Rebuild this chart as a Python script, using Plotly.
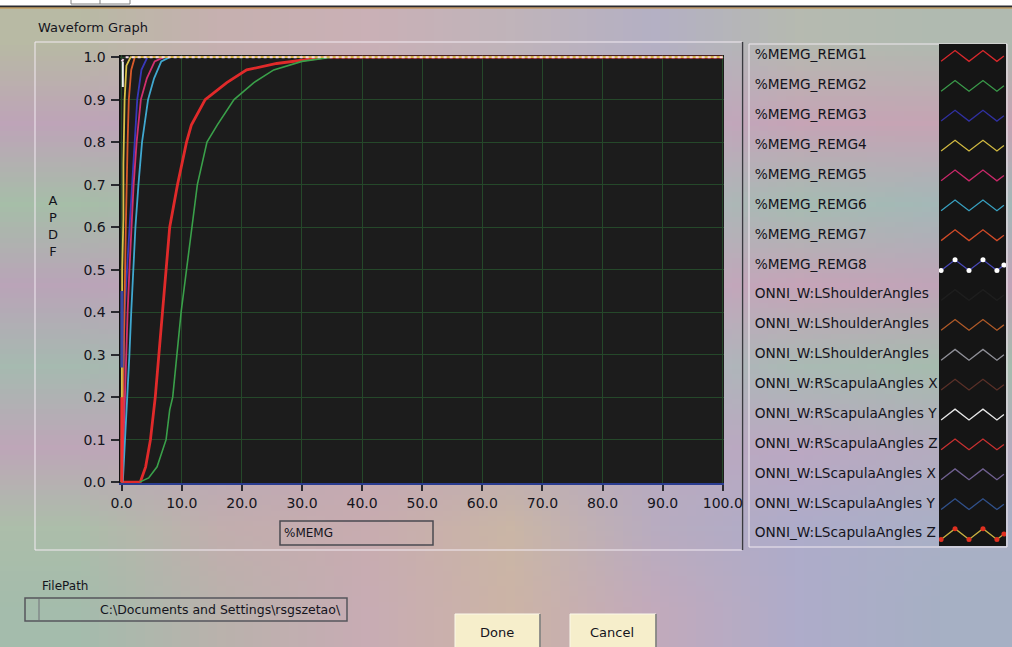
import base64, struct, zlib
import plotly.graph_objects as go

W, H = 1012, 647

# ---------------- data ----------------
x_remg1 = [0.0, 3.1, 4.0, 4.8, 5.6, 6.2, 6.9, 7.5, 8.0, 9.3, 10.8, 11.6, 13.9, 17.5, 20.8, 25.8, 34.0, 100.0]
y_remg1 = [0.0, 0.0, 0.036, 0.1, 0.2, 0.3, 0.4, 0.5, 0.6, 0.7, 0.8, 0.84, 0.9, 0.94, 0.97, 0.985, 1.0, 1.0]

x_remg2 = [3.0, 4.5, 5.9, 7.0, 7.4, 8.0, 8.5, 9.2, 9.9, 10.8, 11.7, 12.6, 14.2, 15.9, 18.7, 22.0, 25.3, 30.0, 35.0, 100.0]
y_remg2 = [0.0, 0.01, 0.036, 0.08, 0.1, 0.17, 0.2, 0.3, 0.4, 0.5, 0.6, 0.7, 0.8, 0.84, 0.9, 0.94, 0.97, 0.99, 1.0, 1.0]

x_remg3 = [0.0, 0.2, 0.5, 0.9, 1.3, 1.7, 2.1, 2.6, 3.3, 4.3, 100.0]
y_remg3 = [0.0, 0.2, 0.4, 0.5, 0.6, 0.7, 0.8, 0.9, 0.97, 1.0, 1.0]

x_remg4 = [0.0, 0.1, 0.3, 0.3, 0.5, 0.8, 1.5, 100.0]
y_remg4 = [0.0, 0.5, 0.62, 0.75, 0.9, 0.98, 1.0, 1.0]

x_remg5 = [0.1, 0.3, 0.6, 0.8, 1.0, 1.3, 1.6, 2.0, 2.5, 3.2, 4.2, 5.5, 7.0, 100.0]
y_remg5 = [0.0, 0.1, 0.2, 0.3, 0.4, 0.5, 0.6, 0.7, 0.8, 0.9, 0.95, 0.99, 1.0, 1.0]

x_remg6 = [0.2, 0.6, 0.9, 1.3, 1.6, 1.9, 2.3, 2.8, 3.4, 4.4, 5.4, 6.6, 8.0, 100.0]
y_remg6 = [0.0, 0.1, 0.2, 0.3, 0.4, 0.5, 0.6, 0.7, 0.8, 0.9, 0.95, 0.99, 1.0, 1.0]

x_remg7 = [0.0, 0.2, 0.4, 0.7, 1.0, 1.2, 1.6, 2.2, 100.0]
y_remg7 = [0.0, 0.2, 0.4, 0.6, 0.8, 0.9, 0.97, 1.0, 1.0]

x_remg8 = [0.0, 0.6, 100.0]
y_remg8 = [0.99, 1.0, 1.0]

x_rscap_y = [0.2, 0.2]
y_rscap_y = [0.93, 0.99]
x_rscap_z = [0.05, 0.05]
y_rscap_z = [0.0, 0.2]
x_lscap_y = [0.05, 0.05]
y_lscap_y = [0.27, 0.45]

x_ticks = [0, 10, 20, 30, 40, 50, 60, 70, 80, 90, 100]
x_ticktext = ["0.0", "10.0", "20.0", "30.0", "40.0", "50.0", "60.0", "70.0", "80.0", "90.0", "100.0"]
y_ticks = [0.0, 0.1, 0.2, 0.3, 0.4, 0.5, 0.6, 0.7, 0.8, 0.9, 1.0]
y_ticktext = ["0.0", "0.1", "0.2", "0.3", "0.4", "0.5", "0.6", "0.7", "0.8", "0.9", "1.0"]

legend_names = [
    "%MEMG_REMG1", "%MEMG_REMG2", "%MEMG_REMG3", "%MEMG_REMG4",
    "%MEMG_REMG5", "%MEMG_REMG6", "%MEMG_REMG7", "%MEMG_REMG8",
    "ONNI_W:LShoulderAngles", "ONNI_W:LShoulderAngles", "ONNI_W:LShoulderAngles",
    "ONNI_W:RScapulaAngles X", "ONNI_W:RScapulaAngles Y", "ONNI_W:RScapulaAngles Z",
    "ONNI_W:LScapulaAngles X", "ONNI_W:LScapulaAngles Y", "ONNI_W:LScapulaAngles Z",
]
legend_colors = [
    "#d8282c", "#3a9a4a", "#3030a0", "#d0b840",
    "#c82868", "#38a0c0", "#d04a28", "#4848b8",
    "#1e1e1e", "#b05a28", "#909098",
    "#5a3028", "#e8e8e8", "#c83030",
    "#706090", "#30508a", "#c8b040",
]
legend_markers = [None] * 7 + ["#ffffff"] + [None] * 8 + ["#e03020"]

# ---------------- helpers ----------------
def fx(px):
    return px / W

def fy(py):
    return 1 - py / H

def png_data_uri(rows):
    h = len(rows)
    w = len(rows[0])
    raw = b""
    for r in rows:
        raw += b"\x00" + b"".join(bytes(int(c[i:i + 2], 16) for i in (1, 3, 5)) for c in r)
    def chunk(t, d):
        c = struct.pack(">I", len(d)) + t + d
        return c + struct.pack(">I", zlib.crc32(t + d) & 0xffffffff)
    data = b"\x89PNG\r\n\x1a\n" + chunk(b"IHDR", struct.pack(">IIBBBBB", w, h, 8, 2, 0, 0, 0)) \
        + chunk(b"IDAT", zlib.compress(raw)) + chunk(b"IEND", b"")
    return "data:image/png;base64," + base64.b64encode(data).decode()

bg_rows = [
    ["#b8baa4", "#c6b0b0", "#cab0b6", "#c0b4ba", "#b4b0c4", "#b6bab0", "#b0bab0"],
    ["#bea4b8", "#baa6b8", "#bea8b8", "#b8acbe", "#bcaac0", "#c6a4b6", "#c6a4b4"],
    ["#a6bea8", "#aeb6ae", "#b6b2b6", "#b8b0b8", "#b4b2bc", "#a6bcb2", "#a4b8b8"],
    ["#baa4b8", "#bea6b8", "#c0a6b6", "#bcaab8", "#beaabe", "#c6a4b8", "#c0a4b8"],
    ["#a6bab0", "#aeb4b4", "#b8aeb8", "#b8b0b8", "#b6b0c2", "#aabab4", "#a6bcae"],
    ["#bea6b8", "#baa8b8", "#c4a8b4", "#bcacb4", "#b8aac0", "#bca8c2", "#b4acbe"],
    ["#acbeaa", "#c2aeae", "#c8acb0", "#cab6a6", "#b8acc0", "#aeacca", "#aab0c6"],
    ["#a4bcac", "#bab2ac", "#c8acb4", "#ccb4a6", "#c2aabc", "#aeacca", "#a6b0c4"],
]

FONT = "DejaVu Sans"
TXT = "#14141c"

fig = go.Figure()

# ---------------- main plot traces ----------------
main = [
    (x_remg1, y_remg1, "#e02a2a", 2.8),
    (x_remg2, y_remg2, "#3aa04a", 1.6),
    (x_remg3, y_remg3, "#3838b8", 1.8),
    (x_remg5, y_remg5, "#d0306e", 1.8),
    (x_remg6, y_remg6, "#40a8d0", 1.8),
    (x_remg7, y_remg7, "#d85a2a", 1.8),
    (x_remg4, y_remg4, "#d8c048", 1.8),
    (x_lscap_y, y_lscap_y, "#3a48a0", 3),
    (x_rscap_z, y_rscap_z, "#f03030", 3),
    (x_rscap_y, y_rscap_y, "#f0f0f0", 2),
]
for xs, ys, col, lw in main:
    fig.add_trace(go.Scatter(x=xs, y=ys, mode="lines", line=dict(color=col, width=lw),
                             showlegend=False, hoverinfo="skip", xaxis="x", yaxis="y"))
fig.add_trace(go.Scatter(x=x_remg8, y=y_remg8, mode="lines",
                         line=dict(color="#f4d8e8", width=2, dash="dot"),
                         showlegend=False, hoverinfo="skip", xaxis="x", yaxis="y"))

# ---------------- legend swatches ----------------
sw_x = [0, 1, 2, 3, 4, 4.5]
sw_d = [-1, 1, -1, 1, -1, 0]
amp = 0.18
n = len(legend_names)
for i in range(n):
    yc = n - 1 - i
    ys = [yc + amp * d for d in sw_d]
    mk = legend_markers[i]
    fig.add_trace(go.Scatter(
        x=sw_x, y=ys, mode="lines+markers" if mk else "lines",
        line=dict(color=legend_colors[i], width=1.3),
        marker=dict(color=mk or legend_colors[i], size=5 if mk else 0),
        showlegend=False, hoverinfo="skip", xaxis="x2", yaxis="y2"))

fig.add_trace(go.Scatter(
    x=[0.03] * n, y=[n - 1 - i for i in range(n)], mode="text",
    text=legend_names, textposition="middle right",
    textfont=dict(family=FONT, size=13.7, color=TXT),
    cliponaxis=True, showlegend=False, hoverinfo="skip", xaxis="x3", yaxis="y3"))

# ---------------- shapes ----------------
shapes = []
def rect(x0, y0, x1, y1, fill=None, line=None, lw=1, layer="below"):
    shapes.append(dict(type="rect", xref="paper", yref="paper",
                       x0=fx(x0), x1=fx(x1), y0=fy(y1), y1=fy(y0),
                       fillcolor=fill or "rgba(0,0,0,0)",
                       line=dict(color=line or "rgba(0,0,0,0)", width=lw if line else 0),
                       layer=layer))
def seg(x0, y0, x1, y1, col, lw=1, layer="below"):
    shapes.append(dict(type="line", xref="paper", yref="paper",
                       x0=fx(x0), x1=fx(x1), y0=fy(y0), y1=fy(y1),
                       line=dict(color=col, width=lw), layer=layer))

rect(0, 0, W, 6, fill="#ffffff")
seg(0, 6.5, W, 6.5, "#2a2a30", 2)
seg(0, 8, W, 8, "#c89040", 1)
seg(71, 0, 71, 4, "#808080", 1)
seg(71, 4, 130, 4, "#808080", 1)
seg(130, 0, 130, 4, "#808080", 1)
seg(100, 0, 100, 4, "#808080", 1)

rect(35, 42, 742, 550, line="#f2eaf2", lw=1)
seg(742.5, 42, 742.5, 550, "#3a3a40", 1.5)
rect(119.5, 55, 724, 483, fill="#1c1c1c")

rect(749, 44, 1007, 547, line="#efe8ef", lw=1)
rect(939, 44, 1006, 546, fill="#151515")

rect(280, 521, 433, 545, line="#4a4a50", lw=1.5)

rect(25, 598, 347, 621, line="#55555c", lw=1.5)
seg(39, 599, 39, 620, "#707078", 1)

for bx0, bx1 in [(455, 540), (570, 656)]:
    rect(bx0, 614, bx1, 650, fill="#f6eecb", line="#fbf8ea", lw=1)
    seg(bx1, 614, bx1, 647, "#707070", 1.5)

# ---------------- annotations ----------------
ann = []
def text(x, y, s, size=13, xanchor="left", yanchor="middle", color=TXT):
    ann.append(dict(x=fx(x), y=fy(y), xref="paper", yref="paper", text=s, showarrow=False,
                    xanchor=xanchor, yanchor=yanchor,
                    font=dict(family=FONT, size=size, color=color)))

text(36, 28, "Waveform Graph", 13)
text(53, 226, "A<br>P<br>D<br>F", 13, xanchor="center")
text(282, 533, "%MEMG", 12)
text(40, 586, "FilePath", 12)
text(98, 609, "C:\\Documents and Settings\\rsgszetao\\", 12.5)
text(497, 632, "Done", 13, xanchor="center")
text(612, 632, "Cancel", 13, xanchor="center")

fig.update_layout(
    width=W, height=H, autosize=False,
    margin=dict(l=0, r=0, t=0, b=0, pad=0, autoexpand=False),
    paper_bgcolor="#b8b0b8",
    plot_bgcolor="rgba(0,0,0,0)",
    shapes=shapes,
    annotations=ann,
    images=[dict(source=png_data_uri(bg_rows), xref="paper", yref="paper",
                 x=0, y=1, sizex=1, sizey=1, sizing="stretch",
                 xanchor="left", yanchor="top", layer="below", opacity=1)],
    xaxis=dict(domain=[fx(119.5), fx(724)], range=[-0.35, 100.2],
               tickvals=x_ticks, ticktext=x_ticktext, automargin=False,
               showgrid=True, gridcolor="#25482a", gridwidth=1, zeroline=False,
               ticks="outside", ticklen=6, tickwidth=1.5, tickcolor="#2a2a30",
               showline=True, linecolor="#2a3c90", linewidth=2,
               tickfont=dict(family=FONT, size=14, color=TXT)),
    yaxis=dict(domain=[fy(483), fy(55)], range=[-0.002, 1.005],
               tickvals=y_ticks, ticktext=y_ticktext, automargin=False,
               showgrid=True, gridcolor="#25482a", gridwidth=1, zeroline=False,
               ticks="outside", ticklen=8, tickwidth=1.5, tickcolor="#2a2a30",
               showline=True, linecolor="#101010", linewidth=1,
               ticklabelstandoff=2,
               tickfont=dict(family=FONT, size=14, color=TXT)),
    xaxis2=dict(domain=[fx(939), fx(1006)], range=[-0.15, 4.65], visible=False,
                automargin=False, anchor="y2"),
    yaxis2=dict(domain=[fy(546), fy(44)], range=[-0.4, n - 0.6], visible=False,
                automargin=False, anchor="x2"),
    xaxis3=dict(domain=[fx(749), fx(939)], range=[0, 1], visible=False,
                automargin=False, anchor="y3"),
    yaxis3=dict(domain=[fy(546), fy(44)], range=[-0.4, n - 0.6], visible=False,
                automargin=False, anchor="x3"),
)

fig.write_html("out.html")
